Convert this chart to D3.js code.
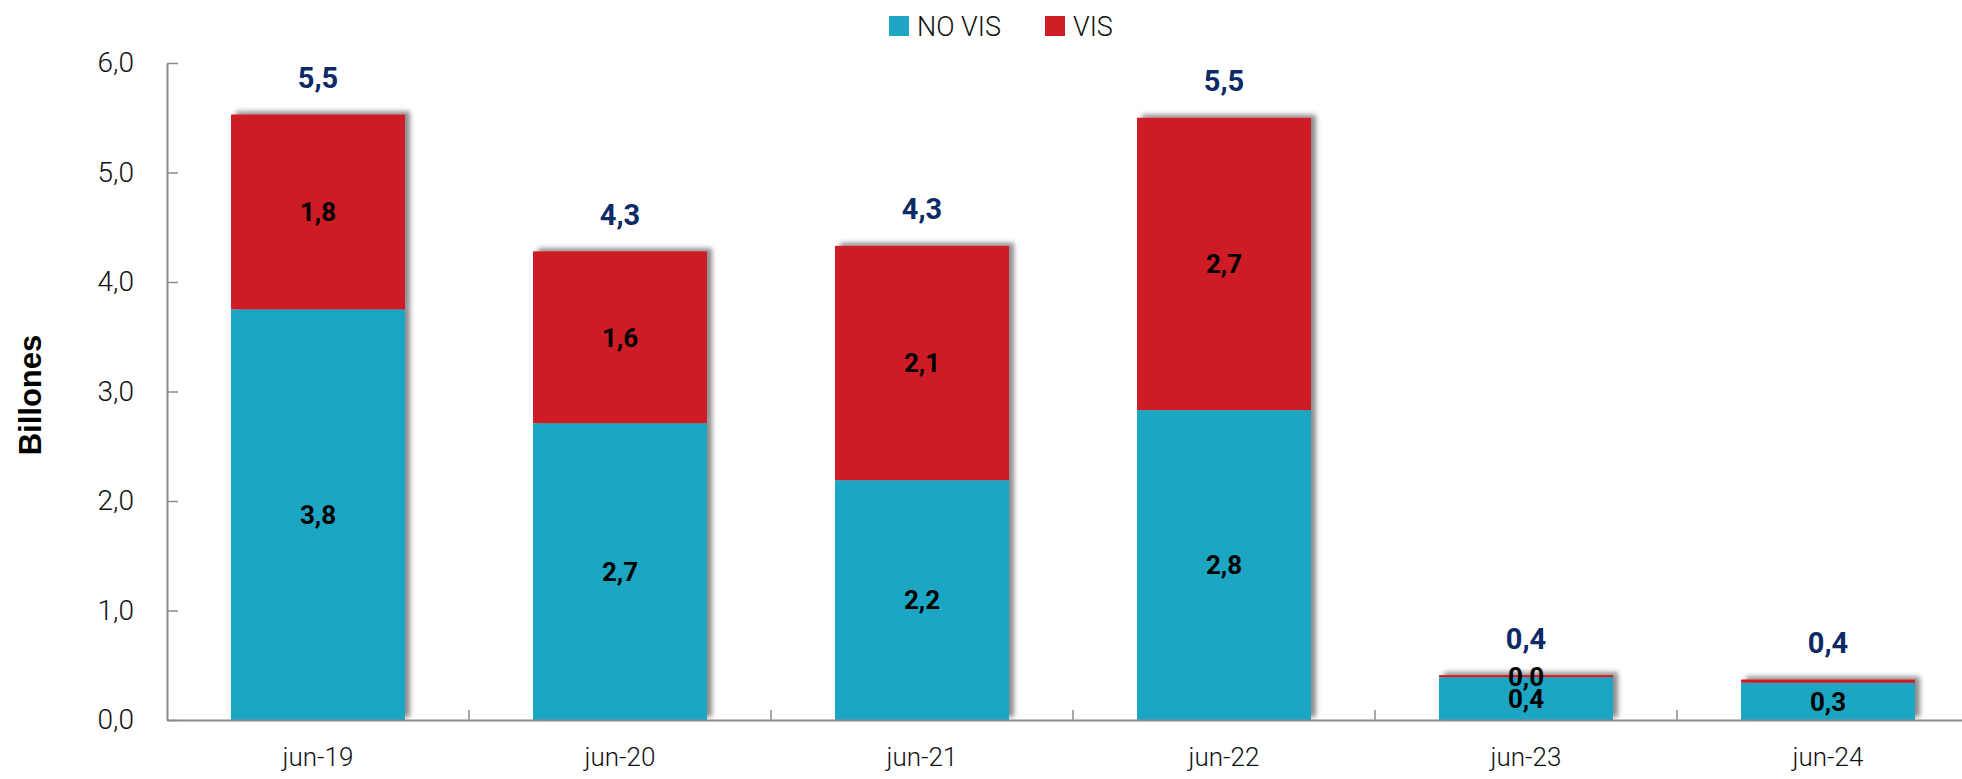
<!DOCTYPE html>
<html>
<head>
<meta charset="utf-8">
<script src="https://cdn.jsdelivr.net/npm/d3@7"></script>
<style>
  body { margin: 0; background: #fff; }
  svg { display: block; }
</style>
</head>
<body>
<svg></svg>
<script>
const w = 1962;
const h = 779;

// data
const periods = ['jun-19', 'jun-20', 'jun-21', 'jun-22', 'jun-23', 'jun-24'];
const noVis = [3.75, 2.71, 2.19, 2.83, 0.39, 0.34];
const vis = [1.78, 1.57, 2.14, 2.67, 0.02, 0.03];
const visLabelHidden = ['jun-24'];
const yTicks = [0, 1, 2, 3, 4, 5, 6];
const seriesNames = ['NO VIS', 'VIS'];

const colors = { 'NO VIS': '#1fa6c4', 'VIS': '#ce1f27' };
const tickFont = 'Roboto, "DejaVu Sans", sans-serif';

const locale = d3.formatLocale({ decimal: ',', thousands: '.', grouping: [3], currency: ['$', ''] });
const fmt = locale.format('.1f');

const rows = periods.map((p, i) => ({ period: p, 'NO VIS': noVis[i], 'VIS': vis[i] }));
const stacked = d3.stack().keys(seriesNames)(rows);

const svg = d3.select('svg')
  .attr('width', w)
  .attr('height', h);

// shadow
const defs = svg.append('defs');
defs.append('filter')
  .attr('id', 'shadow')
  .attr('x', '-20%').attr('y', '-20%')
  .attr('width', '140%').attr('height', '140%')
  .append('feDropShadow')
  .attr('dx', 5)
  .attr('dy', -3)
  .attr('stdDeviation', 2.5)
  .attr('flood-color', '#000')
  .attr('flood-opacity', 0.45);

// Scales
const plotLeft = 167, plotRight = 1979, plotTop = 63, plotBottom = 720;

const xScale = d3.scaleBand()
  .domain(periods)
  .range([plotLeft, plotRight])
  .paddingInner(0.424)
  .paddingOuter(0.212);

const xLabels = d3.scaleBand()
  .domain(periods)
  .range([plotLeft, plotRight]);

const yScale = d3.scaleLinear()
  .domain([0, 6])
  .range([plotBottom, plotTop]);

// Bars
const bars = svg.append('g').attr('filter', 'url(#shadow)');
bars.selectAll('g')
  .data(stacked)
  .enter()
  .append('g')
  .attr('fill', d => colors[d.key])
  .selectAll('rect')
  .data(d => d)
  .enter()
  .append('rect')
  .attr('x', d => xScale(d.data.period))
  .attr('width', xScale.bandwidth())
  .attr('y', d => yScale(d[1]))
  .attr('height', d => yScale(d[0]) - yScale(d[1]));

// Axes
const yAxis = d3.axisLeft(yScale)
  .tickValues(yTicks)
  .tickFormat(d => fmt(d))
  .tickSizeInner(-11)
  .tickSizeOuter(0)
  .tickPadding(33);

const yG = svg.append('g')
  .attr('transform', 'translate(' + plotLeft + ',0)')
  .call(yAxis);
yG.selectAll('text')
  .attr('font-size', 28)
  .attr('font-weight', 300)
  .attr('font-family', tickFont)
  .attr('fill', '#111');

const xAxis = d3.axisBottom(xLabels)
  .tickSize(0)
  .tickPadding(28);

const xG = svg.append('g')
  .attr('transform', 'translate(0,' + plotBottom + ')')
  .call(xAxis);
xG.selectAll('text')
  .attr('font-size', 26)
  .attr('font-weight', 300)
  .attr('font-family', tickFont)
  .attr('fill', '#111');

// category separators
svg.append('g')
  .selectAll('line')
  .data(periods.slice(1))
  .enter()
  .append('line')
  .attr('x1', d => xLabels(d))
  .attr('x2', d => xLabels(d))
  .attr('y1', plotBottom)
  .attr('y2', plotBottom - 10)
  .attr('stroke', '#8c8c8c')
  .attr('stroke-width', 1.5);

svg.selectAll('.domain')
  .attr('stroke', '#8c8c8c')
  .attr('stroke-width', 2);
yG.selectAll('.tick line')
  .attr('stroke', '#8c8c8c')
  .attr('stroke-width', 1.5);

// Segment labels
const segLabels = svg.append('g')
  .attr('font-family', tickFont)
  .attr('font-weight', 700)
  .attr('font-size', 26)
  .attr('text-anchor', 'middle')
  .attr('fill', '#000');

stacked.forEach(s => {
  segLabels.selectAll(null)
    .data(s.filter(d => !(s.key === 'VIS' && visLabelHidden.includes(d.data.period))))
    .enter()
    .append('text')
    .attr('x', d => xScale(d.data.period) + xScale.bandwidth() / 2)
    .attr('y', d => (yScale(d[0]) + yScale(d[1])) / 2)
    .attr('dy', '0.36em')
    .text(d => fmt(d[1] - d[0]));
});

// Totals
svg.append('g')
  .selectAll('text')
  .data(rows)
  .enter()
  .append('text')
  .attr('x', d => xScale(d.period) + xScale.bandwidth() / 2)
  .attr('y', d => yScale(d['NO VIS'] + d['VIS']) - 37)
  .attr('dy', '0.36em')
  .attr('text-anchor', 'middle')
  .attr('font-family', tickFont)
  .attr('font-weight', 700)
  .attr('font-size', 29)
  .attr('fill', '#0b2a66')
  .text(d => fmt(d['NO VIS'] + d['VIS']));

// Y title
svg.append('text')
  .attr('transform', 'translate(41,395) rotate(-90)')
  .attr('text-anchor', 'middle')
  .attr('font-family', '"Liberation Sans", Arial, sans-serif')
  .attr('font-weight', 700)
  .attr('font-size', 31)
  .attr('fill', '#000')
  .text('Billones');

// Legend
const legendX = [889, 1045];
const legend = svg.append('g');
seriesNames.forEach((name, i) => {
  legend.append('rect')
    .attr('x', legendX[i])
    .attr('y', 16)
    .attr('width', 20)
    .attr('height', 20)
    .attr('fill', colors[name]);
  legend.append('text')
    .attr('x', legendX[i] + 28)
    .attr('y', 26)
    .attr('dy', '0.36em')
    .attr('font-family', tickFont)
    .attr('font-weight', 300)
    .attr('font-size', 27)
    .attr('fill', '#111')
    .text(name);
});
</script>
</body>
</html>
